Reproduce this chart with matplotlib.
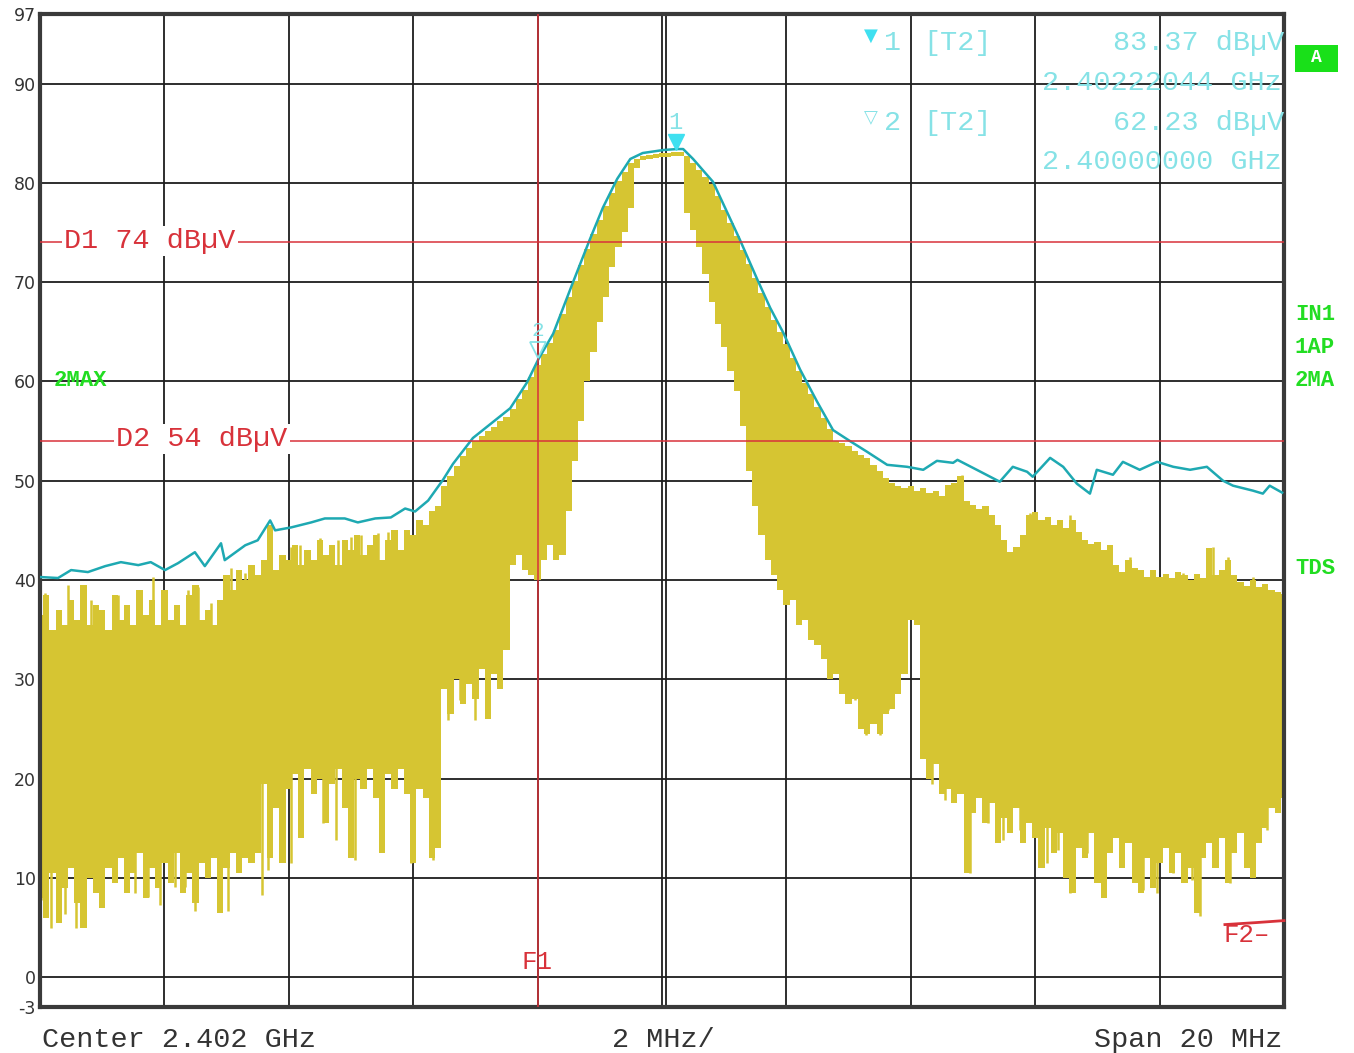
import numpy as np
import matplotlib
matplotlib.use("Agg")
import matplotlib.pyplot as plt
import matplotlib.transforms as mtransforms
from matplotlib.patches import Rectangle

# ---------------- data ----------------
# Trace 2 (max hold, cyan): frequency in MHz, level in dBuV
max_hold_freq = [2392.00, 2392.29, 2392.50, 2392.77, 2393.05, 2393.30, 2393.58, 2393.78,
                 2394.01, 2394.22, 2394.49, 2394.65, 2394.91, 2394.97, 2395.30, 2395.50,
                 2395.70, 2395.78, 2396.04, 2396.36, 2396.58, 2396.90, 2397.11, 2397.39,
                 2397.64, 2397.87, 2398.03, 2398.24, 2398.48, 2398.64, 2398.96, 2399.28,
                 2399.56, 2399.83, 2400.01, 2400.25, 2400.57, 2400.84, 2401.05, 2401.28,
                 2401.49, 2401.69, 2402.02, 2402.24, 2402.34, 2402.50, 2402.82, 2403.05,
                 2403.25, 2403.53, 2403.74, 2403.95, 2404.22, 2404.49, 2404.75, 2405.02,
                 2405.30, 2405.62, 2405.94, 2406.20, 2406.42, 2406.68, 2406.75, 2407.06,
                 2407.43, 2407.64, 2407.87, 2407.96, 2408.24, 2408.45, 2408.67, 2408.88,
                 2408.99, 2409.25, 2409.41, 2409.68, 2409.96, 2410.22, 2410.49, 2410.76,
                 2411.02, 2411.18, 2411.50, 2411.66, 2411.77, 2411.97]
max_hold_db = [40.3, 40.2, 41.0, 40.8, 41.4, 41.8, 41.5, 41.8,
               41.0, 41.7, 42.8, 41.4, 43.7, 42.0, 43.5, 44.0,
               46.0, 45.0, 45.3, 45.8, 46.2, 46.2, 45.8, 46.2,
               46.3, 47.2, 46.9, 48.0, 50.1, 51.7, 54.3, 55.9,
               57.3, 59.9, 62.2, 64.8, 70.0, 74.3, 77.5, 80.4,
               82.4, 83.0, 83.3, 83.4, 83.4, 82.4, 80.1, 77.0,
               74.3, 70.3, 67.4, 64.9, 61.2, 58.0, 55.1, 54.0,
               52.9, 51.6, 51.4, 51.1, 52.0, 51.8, 52.1, 51.1,
               49.9, 51.4, 50.9, 50.4, 52.3, 51.4, 49.7, 48.7,
               51.1, 50.6, 51.9, 51.1, 51.9, 51.4, 51.1, 51.4,
               50.0, 49.5, 49.0, 48.7, 49.5, 48.8]

# Trace 1 (clear write, yellow): 201 sweep points, upper and lower extent per point
sweep_start_mhz, sweep_stop_mhz, sweep_points = 2392.0, 2412.0, 201
clrw_hi = [36.5, 38.5, 35.0, 37.0, 35.5, 38.0, 36.0, 39.5, 35.5, 37.5,
           37.0, 35.0, 38.5, 36.0, 37.5, 35.5, 39.0, 36.5, 38.0, 35.5,
           39.0, 36.0, 37.5, 35.5, 38.5, 39.5, 36.0, 37.0, 35.5, 38.0,
           40.5, 39.0, 41.0, 40.0, 41.5, 40.5, 42.0, 45.5, 41.0, 42.5,
           42.0, 43.5, 41.5, 43.0, 42.0, 44.0, 42.5, 43.5, 41.5, 44.0,
           43.0, 44.5, 42.5, 43.5, 44.5, 42.0, 44.0, 45.0, 43.0, 45.0,
           44.5, 46.0, 45.5, 47.0, 47.5, 49.5, 50.5, 51.5, 52.5, 53.3,
           54.0, 54.5, 55.0, 55.4, 56.0, 56.4, 57.2, 58.2, 59.1, 60.4,
           61.7, 62.8, 63.9, 65.2, 66.8, 68.5, 70.1, 71.7, 73.3, 74.8,
           76.3, 77.7, 79.0, 80.2, 81.1, 82.0, 82.4, 82.7, 82.8, 82.9,
           83.0, 83.0, 83.1, 83.1, 82.7, 82.0, 81.3, 80.6, 79.9, 78.7,
           77.3, 76.0, 74.6, 73.2, 71.8, 70.4, 68.9, 67.5, 66.2, 65.0,
           63.8, 62.4, 61.0, 59.8, 58.7, 57.4, 56.3, 55.2, 54.0, 53.8,
           53.5, 53.0, 52.6, 52.3, 51.6, 51.0, 50.3, 49.8, 49.5, 49.3,
           49.5, 49.0, 49.3, 48.8, 49.0, 48.5, 49.6, 49.8, 50.5, 48.0,
           47.6, 47.2, 47.5, 46.5, 45.5, 44.0, 42.8, 43.3, 44.5, 46.5,
           46.8, 46.0, 46.3, 45.5, 46.0, 45.2, 46.0, 44.8, 44.0, 43.6,
           43.8, 43.0, 43.5, 41.5, 40.8, 42.0, 41.2, 41.0, 40.3, 41.0,
           40.3, 40.6, 40.2, 40.8, 40.5, 40.0, 40.6, 40.2, 43.2, 40.5,
           41.0, 42.0, 40.5, 39.8, 39.4, 40.0, 39.3, 39.6, 39.0, 38.8,
           38.6]
clrw_lo = [8.0, 6.0, 10.5, 5.5, 9.0, 11.0, 7.5, 5.0, 10.0, 8.5,
           7.0, 11.0, 9.5, 12.0, 8.5, 10.5, 12.5, 8.0, 11.0, 9.0,
           11.5, 9.5, 12.5, 8.5, 10.5, 7.5, 11.5, 10.0, 12.0, 6.5,
           11.0, 12.5, 10.5, 12.0, 11.5, 12.5, 19.5, 12.0, 17.0, 11.5,
           19.0, 20.5, 14.0, 21.0, 18.5, 20.0, 15.5, 19.5, 21.0, 17.0,
           12.0, 20.0, 19.0, 21.0, 18.0, 12.5, 20.5, 19.0, 21.0, 18.5,
           11.5, 19.0, 18.0, 12.0, 13.0, 29.0, 26.5, 30.0, 27.5, 29.5,
           28.0, 31.0, 26.0, 30.5, 29.0, 33.0, 41.5, 42.5, 41.0, 40.5,
           40.0, 42.0, 43.5, 42.0, 42.5, 47.0, 52.0, 56.0, 60.0, 63.0,
           66.0, 68.5, 71.5, 73.5, 75.0, 77.5, 81.5, 82.3, 82.4, 82.5,
           82.6, 82.6, 82.7, 82.7, 77.0, 75.2, 73.5, 70.8, 68.0, 65.8,
           63.5, 61.0, 59.0, 55.5, 51.0, 47.5, 44.5, 42.0, 40.5, 39.0,
           37.5, 38.0, 35.5, 36.0, 34.0, 33.5, 32.0, 30.0, 30.5, 28.5,
           27.5, 28.0, 25.0, 24.5, 25.5, 24.5, 26.5, 27.0, 28.5, 30.5,
           36.0, 35.5, 22.0, 20.0, 21.5, 18.5, 19.0, 17.5, 18.5, 10.5,
           16.5, 18.0, 15.5, 17.5, 13.5, 16.0, 14.5, 17.0, 13.5, 15.5,
           14.0, 11.0, 15.0, 12.5, 14.5, 10.0, 8.5, 13.0, 12.0, 14.5,
           9.5, 8.0, 12.5, 14.0, 11.0, 13.5, 9.5, 8.5, 12.0, 9.0,
           11.5, 13.0, 10.5, 12.5, 9.5, 11.0, 6.5, 12.0, 13.5, 11.0,
           14.0, 9.5, 12.5, 14.5, 11.0, 10.0, 13.5, 15.0, 17.0, 16.5,
           18.0]
down_spike_freq = [2392.05, 2392.18, 2392.40, 2392.58, 2393.01, 2393.21, 2393.38, 2393.53,
                   2393.74, 2393.93, 2394.17, 2394.33, 2394.49, 2395.02, 2395.57, 2395.67,
                   2396.04, 2396.55, 2396.76, 2397.06, 2397.47, 2397.96, 2398.32, 2398.56,
                   2398.75, 2398.99, 2403.98, 2404.17, 2404.70, 2405.10, 2405.28, 2405.50,
                   2405.63, 2406.34, 2406.55, 2406.76, 2406.95, 2407.24, 2407.48, 2407.76,
                   2408.19, 2408.37, 2408.56, 2408.83, 2409.09, 2409.36, 2409.73, 2409.96,
                   2410.22, 2410.52, 2410.65, 2411.13, 2411.50, 2411.73]
down_spike_db = [7.8, 5.0, 6.4, 5.0, 7.1, 9.8, 8.8, 8.5,
                 8.1, 7.3, 9.1, 9.1, 6.7, 6.7, 8.3, 10.8,
                 11.5, 15.5, 13.8, 11.8, 12.8, 11.5, 11.8, 25.9,
                 27.9, 25.9, 38.0, 37.0, 33.0, 27.9, 24.4, 24.4,
                 26.9, 19.5, 17.8, 18.8, 10.5, 15.5, 13.8, 14.8,
                 11.5, 12.8, 8.5, 12.5, 8.1, 13.1, 8.8, 8.5,
                 10.5, 9.8, 6.2, 9.5, 10.1, 14.8]
up_spike_freq = [2392.08, 2392.45, 2392.82, 2393.25, 2393.58, 2393.82, 2394.01, 2394.38,
                 2394.54, 2394.75, 2395.07, 2395.30, 2395.71, 2396.04, 2396.18, 2396.50,
                 2396.79, 2397.00, 2397.16, 2397.43, 2397.59, 2397.88, 2398.08, 2406.82,
                 2407.92, 2408.56, 2409.52, 2410.38, 2410.86, 2411.10, 2411.50]
up_spike_db = [38.7, 39.5, 38.0, 38.5, 38.3, 40.3, 38.0, 39.0,
               39.3, 37.7, 41.2, 40.7, 45.5, 43.3, 43.5, 44.2,
               44.0, 44.3, 44.5, 44.7, 44.8, 45.0, 45.3, 50.6,
               46.7, 46.5, 42.3, 40.7, 43.3, 42.3, 40.3]

# markers, display lines, frequency lines
marker1_freq, marker1_db = 2402.22044, 83.37
marker2_freq, marker2_db = 2400.00000, 62.23
d1_level, d2_level = 74, 54
f1_freq = 2400.0
f2_line_freq = [2411.05, 2411.55, 2412.0]
f2_line_db = [5.3, 5.5, 5.7]

y_ticks = [-3, 0, 10, 20, 30, 40, 50, 60, 70, 80, 90, 97]
x_grid = [2392, 2394, 2396, 2398, 2400, 2402, 2404, 2406, 2408, 2410, 2412]

# ---------------- style ----------------
W, H = 1354, 1053
YEL = "#d6c532"
CYAN_TR = "#1ea9b2"
CYAN_TXT = "#86e2e6"
CYAN_MK = "#3fe0f0"
RED = "#d8323a"
GREEN = "#22dd22"
GRID = "#1e1e1e"
TXT = "#333333"
MONO = ["Liberation Mono", "DejaVu Sans Mono"]
FS = 20.5

fig = plt.figure(figsize=(W / 100, H / 100), dpi=100)
fig.patch.set_facecolor("white")
ax = fig.add_axes([40 / W, 46 / H, 1244 / W, 993 / H])
ax.set_xlim(sweep_start_mhz, sweep_stop_mhz)
ax.set_ylim(-3, 97)

ax.set_xticks(x_grid)
ax.set_xticklabels([])
ax.set_yticks(y_ticks)
ax.set_yticklabels([str(v) for v in y_ticks], fontsize=12.5, color=TXT, family="DejaVu Sans")
ax.tick_params(length=0, pad=3)
ax.grid(True, color=GRID, lw=1.3, zorder=0)
ax.set_axisbelow(True)
ax.axvline(2402.06, color=GRID, lw=1.3, zorder=0.5)
for s in ax.spines.values():
    s.set_color("#3a3a3a")
    s.set_linewidth(3)

# yellow clear-write trace
sweep = np.linspace(sweep_start_mhz, sweep_stop_mhz, sweep_points)
hi = np.array(clrw_hi)
lo = np.array(clrw_lo)
mid = (hi + lo) / 2
ax.fill_between(sweep, lo, hi, step="mid", color=YEL, lw=0, zorder=2)
ax.vlines(down_spike_freq, down_spike_db, np.interp(down_spike_freq, sweep, mid),
          color=YEL, lw=1.8, zorder=2)
ax.vlines(up_spike_freq, np.interp(up_spike_freq, sweep, mid), up_spike_db,
          color=YEL, lw=1.8, zorder=2)

# cyan max-hold trace
ax.plot(max_hold_freq, max_hold_db, color=CYAN_TR, lw=1.8, zorder=3)

# display lines
ax.axhline(d1_level, color=RED, lw=1.1, zorder=4)
ax.axhline(d2_level, color=RED, lw=1.1, zorder=4)
ax.axvline(f1_freq, color=RED, lw=1.1, zorder=4)
ax.plot(f2_line_freq, f2_line_db, color=RED, lw=2.0, zorder=4, clip_on=False)


def fx(px):
    return px / W


def fy(py):
    return 1 - py / H


bb = dict(boxstyle="square,pad=0.08", fc="white", ec="none")
fig.text(fx(64), fy(241), "D1 74 dBµV", color=RED, fontsize=FS, family=MONO,
         va="center", ha="left", bbox=bb, zorder=5)
fig.text(fx(116), fy(439), "D2 54 dBµV", color=RED, fontsize=FS, family=MONO,
         va="center", ha="left", bbox=bb, zorder=5)
fig.text(fx(537), fy(962), "F1", color=RED, fontsize=FS - 2, family=MONO,
         va="center", ha="center", zorder=5)
fig.text(fx(1224), fy(935), "F2–", color=RED, fontsize=FS - 2, family=MONO,
         va="center", ha="left", zorder=5)

# markers
off1 = mtransforms.offset_copy(ax.transData, fig=fig, x=0, y=7, units="dots")
ax.plot([marker1_freq], [marker1_db], marker="v", ms=12, color=CYAN_MK,
        transform=off1, zorder=6, clip_on=False)
off1t = mtransforms.offset_copy(ax.transData, fig=fig, x=0, y=27, units="dots")
ax.text(marker1_freq, marker1_db, "1", transform=off1t, color=CYAN_TXT,
        fontsize=17, family=MONO, ha="center", va="center", zorder=6)
off2 = mtransforms.offset_copy(ax.transData, fig=fig, x=0, y=9, units="dots")
ax.plot([marker2_freq], [marker2_db], marker="v", ms=11, mfc="none",
        mec=CYAN_TXT, mew=1.3, transform=off2, zorder=6)
off2t = mtransforms.offset_copy(ax.transData, fig=fig, x=0, y=29, units="dots")
ax.text(marker2_freq, marker2_db, "2", transform=off2t, color=CYAN_TXT,
        fontsize=15, family=MONO, ha="center", va="center", zorder=6)

# marker info block
fig.text(fx(871), fy(36), "▼", color=CYAN_MK, fontsize=13, family="DejaVu Sans",
         ha="center", va="center")
fig.text(fx(884), fy(43), "1", color=CYAN_TXT, fontsize=FS, family=MONO, va="center")
fig.text(fx(923), fy(43), "[T2]", color=CYAN_TXT, fontsize=FS, family=MONO, va="center")
fig.text(fx(1284), fy(43), f"{marker1_db:.2f} dBµV", color=CYAN_TXT, fontsize=FS,
         family=MONO, va="center", ha="right")
fig.text(fx(1282), fy(83), f"{marker1_freq / 1000:.8f} GHz", color=CYAN_TXT,
         fontsize=FS, family=MONO, va="center", ha="right")
fig.text(fx(871), fy(117), "▽", color=CYAN_TXT, fontsize=13, family="DejaVu Sans",
         ha="center", va="center")
fig.text(fx(884), fy(123), "2", color=CYAN_TXT, fontsize=FS, family=MONO, va="center")
fig.text(fx(923), fy(123), "[T2]", color=CYAN_TXT, fontsize=FS, family=MONO, va="center")
fig.text(fx(1284), fy(123), f"{marker2_db:.2f} dBµV", color=CYAN_TXT, fontsize=FS,
         family=MONO, va="center", ha="right")
fig.text(fx(1282), fy(162), f"{marker2_freq / 1000:.8f} GHz", color=CYAN_TXT,
         fontsize=FS, family=MONO, va="center", ha="right")

# green status labels
fig.text(fx(54), fy(380), "2MAX", color=GREEN, fontsize=16, family=MONO,
         weight="bold", va="center", ha="left")
fig.patches.append(Rectangle((fx(1295), fy(72)), (1338 - 1295) / W, 27 / H,
                             transform=fig.transFigure, fc="#19e019", ec="none"))
fig.text(fx(1316), fy(58), "A", color="white", fontsize=13, family=MONO,
         weight="bold", va="center", ha="center")
for lbl, py in [("IN1", 314), ("1AP", 347), ("2MA", 380), ("TDS", 568)]:
    fig.text(fx(1295), fy(py), lbl, color=GREEN, fontsize=16, family=MONO,
             weight="bold", va="center", ha="left")

# bottom annotations
fig.text(fx(42), fy(1040), "Center 2.402 GHz", color=TXT, fontsize=FS, family=MONO,
         va="center", ha="left")
fig.text(fx(612), fy(1040), "2 MHz/", color=TXT, fontsize=FS, family=MONO,
         va="center", ha="left")
fig.text(fx(1282), fy(1040), "Span 20 MHz", color=TXT, fontsize=FS, family=MONO,
         va="center", ha="right")

fig.savefig("out.png", dpi=100, facecolor="white")
